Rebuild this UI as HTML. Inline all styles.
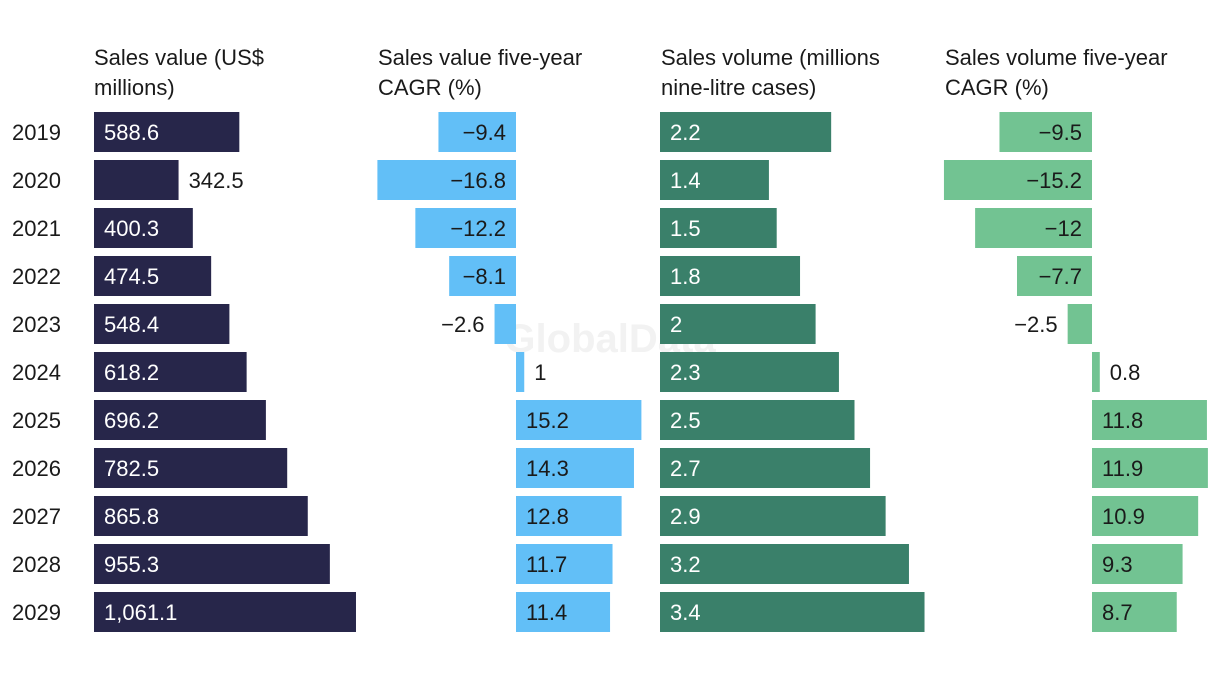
<!DOCTYPE html>
<html><head><meta charset="utf-8"><style>
body{margin:0;background:#fff;width:1220px;height:674px;overflow:hidden;font-family:"Liberation Sans",sans-serif}
svg text{font-family:"Liberation Sans",sans-serif}
</style></head><body>
<svg id="chart" width="1220" height="674" xmlns="http://www.w3.org/2000/svg"></svg>
<script>
const years=["2019","2020","2021","2022","2023","2024","2025","2026","2027","2028","2029"];
const salesValue=[588.6,342.5,400.3,474.5,548.4,618.2,696.2,782.5,865.8,955.3,1061.1];
const salesValueLabels=["588.6","342.5","400.3","474.5","548.4","618.2","696.2","782.5","865.8","955.3","1,061.1"];
const valueCagr=[-9.4,-16.8,-12.2,-8.1,-2.6,1,15.2,14.3,12.8,11.7,11.4];
const salesVolume=[2.2,1.4,1.5,1.8,2,2.3,2.5,2.7,2.9,3.2,3.4];
const volumeCagr=[-9.5,-15.2,-12,-7.7,-2.5,0.8,11.8,11.9,10.9,9.3,8.7];
const svg=document.getElementById('chart');
const NS='http://www.w3.org/2000/svg';
function mk(t,a){const e=document.createElementNS(NS,t);for(const k in a)e.setAttribute(k,a[k]);svg.appendChild(e);return e;}
const rowY=i=>112+i*48, barH=40;
function fmt(v){return v<0?'\u2212'+Math.abs(v):String(v);}
// watermark
let wm=mk('text',{x:610,y:352,'text-anchor':'middle','font-size':40,'font-weight':'bold',fill:'#f2f2f2'});wm.textContent='GlobalData';


// headers
const headers=[[94,"Sales value (US$","millions)"],[378,"Sales value five-year","CAGR (%)"],[661,"Sales volume (millions","nine-litre cases)"],[945,"Sales volume five-year","CAGR (%)"]];
headers.forEach((h,k)=>{const t=mk('text',{x:h[0],y:65,'font-size':22,fill:'#1a1a1a'});


const a=document.createElementNS(NS,'tspan');a.setAttribute('x',h[0]);a.textContent=h[1];t.appendChild(a);
const b=document.createElementNS(NS,'tspan');b.setAttribute('x',h[0]);b.setAttribute('dy',30);b.textContent=h[2];t.appendChild(b);});
years.forEach((y,i)=>{const t=mk('text',{x:12,y:rowY(i)+28,'font-size':22,fill:'#1a1a1a'});t.textContent=y;

});
function panel(vals,labels,zero,scale,color,txtIn,name,minIn){
 vals.forEach((v,i)=>{const w=Math.abs(v)*scale;const x=v>=0?zero:zero-w;
  const r=mk('rect',{x:x,y:rowY(i),width:w,height:barH,fill:color});
  
  
  const inside=w>=minIn;const t=mk('text',{y:rowY(i)+28,'font-size':22});
  
  
  if(v>=0){t.setAttribute('x',inside?zero+10:zero+w+10);}
  else{t.setAttribute('x',inside?zero-10:zero-w-10);t.setAttribute('text-anchor','end');}
  t.setAttribute('fill',inside?txtIn:'#1a1a1a');t.textContent=labels[i];});
}
panel(salesValue,salesValueLabels,94,0.2469,'#27264a','#fff','sales-value',95);
panel(valueCagr,valueCagr.map(fmt),516,8.25,'#62bff7','#1a1a1a','value-cagr',60);
panel(salesVolume,salesVolume.map(String),660,77.8,'#3a806a','#fff','sales-volume',40);
panel(volumeCagr,volumeCagr.map(fmt),1092,9.74,'#72c392','#1a1a1a','volume-cagr',60);
</script>
</body></html>
